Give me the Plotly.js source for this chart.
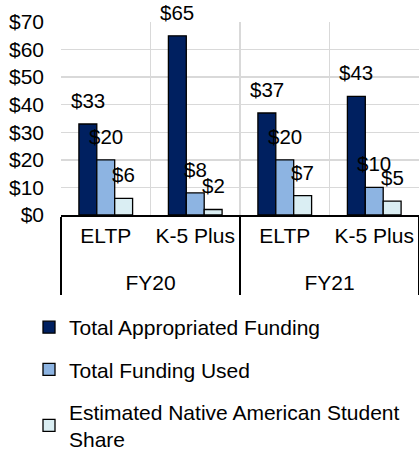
<!DOCTYPE html>
<html>
<head>
<meta charset="utf-8">
<script src="https://cdn.plot.ly/plotly-3.0.1.min.js"></script>
<style>html,body{margin:0;padding:0;background:#fff;}#chart{width:419px;height:452px;}</style>
</head>
<body>
<div id="chart"></div>
<script>
const fiscalYears = ['FY20', 'FY20', 'FY21', 'FY21'];
const programs = ['ELTP', 'K-5 Plus', 'ELTP', 'K-5 Plus'];
const appropriated = [33, 65, 37, 43];
const used = [20, 8, 20, 10];
const nativeShare = [6, 2, 7, 5];
const seriesNames = ['Total Appropriated Funding', 'Total Funding Used', 'Estimated Native American Student<br>Share'];
const seriesColors = ['#002060', '#8DB4E2', '#DAEEF3'];
const seriesValues = [appropriated, used, nativeShare];

const FONT = 'Liberation Sans, Arial, sans-serif';
const BARGAP = 0.4;
const nSeries = seriesValues.length;
const barW = (1 - BARGAP) / nSeries;

// inner-level labels get an almost empty second line so the FY level sits lower, as in the reference
const programLabels = programs.map(p => p + '<br><span style="font-size:1px">\u00a0</span>');

const traces = seriesValues.map((vals, s) => ({
  type: 'bar',
  name: seriesNames[s],
  legendgroup: 'g' + s,
  x: [fiscalYears, programLabels],
  y: vals,
  marker: {color: seriesColors[s], line: {color: '#000', width: 1.3}},
  hoverinfo: 'skip'
}));

const annotations = [];
seriesValues.forEach((vals, s) => {
  vals.forEach((v, i) => {
    annotations.push({
      xref: 'x2', yref: 'y',
      x: i + (s - (nSeries - 1) / 2) * barW,
      y: v,
      text: '$' + v,
      showarrow: false,
      yanchor: 'bottom',
      xanchor: 'center',
      yshift: 10,
      font: {family: FONT, size: 20.5, color: '#000'}
    });
  });
});

const layout = {
  width: 419, height: 452,
  margin: {l: 61, r: 0, t: 22, b: 237, autoexpand: false},
  paper_bgcolor: '#fff', plot_bgcolor: '#fff',
  font: {family: FONT, size: 21, color: '#000'},
  barmode: 'group',
  bargap: BARGAP,
  bargroupgap: 0,
  showlegend: true,
  xaxis: {
    type: 'multicategory',
    showline: true, linecolor: '#000', linewidth: 1.5,
    showdividers: true, dividercolor: '#000', dividerwidth: 1.5,
    tickson: 'boundaries',
    showgrid: true, gridcolor: '#d9d9d9', gridwidth: 1.3,
    ticks: '',
    ticklabelstandoff: 1,
    tickfont: {family: FONT, size: 21, color: '#000'},
    fixedrange: true
  },
  xaxis2: {
    overlaying: 'x', range: [-0.5, 3.5], visible: false, fixedrange: true
  },
  yaxis: {
    range: [0, 70], dtick: 10, tickprefix: '$',
    showgrid: true, gridcolor: '#d9d9d9', gridwidth: 1.3,
    zeroline: false, showline: false, ticks: '',
    ticklabelstandoff: 16,
    tickfont: {family: FONT, size: 21, color: '#000'},
    fixedrange: true
  },
  legend: {
    orientation: 'v',
    xref: 'container', yref: 'container',
    x: 29 / 419, y: 1 - 307 / 452,
    xanchor: 'left', yanchor: 'top',
    traceorder: 'grouped',
    tracegroupgap: 12,
    font: {family: FONT, size: 21, color: '#000'},
    bgcolor: 'rgba(0,0,0,0)'
  },
  annotations: annotations
};

Plotly.newPlot('chart', traces, layout, {displayModeBar: false, staticPlot: true});
</script>
</body>
</html>
